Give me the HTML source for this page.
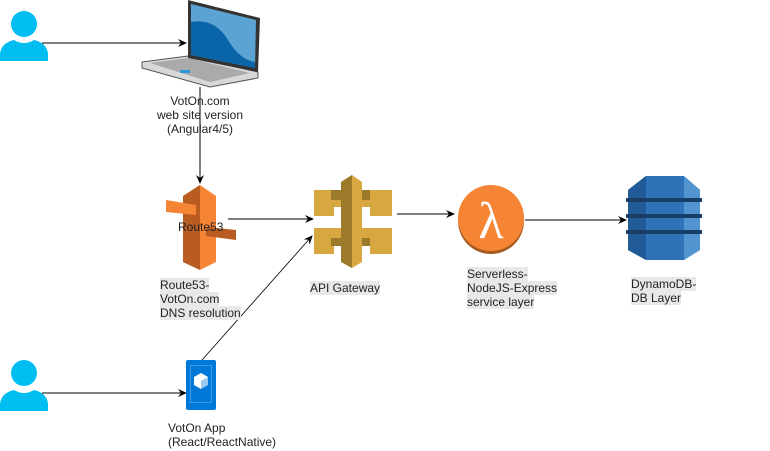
<!DOCTYPE html>
<html><head><style>
body{margin:0;background:#fff;width:770px;height:451px;overflow:hidden;font-family:"Liberation Sans",sans-serif;}
.t{position:absolute;font-size:12px;line-height:14px;color:#222;}
.bg span{background:#e8e8e8;}
</style></head><body>
<svg width="770" height="451" style="position:absolute;left:0;top:0">
<defs><marker id="a" markerWidth="10" markerHeight="10" refX="8" refY="5" orient="auto" markerUnits="userSpaceOnUse"><path d="M0,1 L9,5 L0,9 L3,5z" fill="#000"/></marker></defs>
<g fill="#00bef2">
<circle cx="24" cy="24" r="13"/><path d="M0,61 L0,54 Q1,43 14,40 Q24,46 34,40 Q47,43 48,54 L48,61z"/>
<circle cx="24" cy="373" r="13"/><path d="M0,411 L0,404 Q1,393 14,390 Q24,396 34,390 Q47,393 48,404 L48,411z"/>
</g>
<g stroke="#000" fill="none">
<line x1="42" y1="43" x2="186" y2="43" marker-end="url(#a)"/>
<line x1="42" y1="393" x2="186" y2="393" marker-end="url(#a)"/>
<line x1="200" y1="87" x2="200" y2="183" marker-end="url(#a)"/>
<line x1="228" y1="219" x2="313" y2="219" marker-end="url(#a)"/>
<line x1="202" y1="360" x2="312" y2="236" marker-end="url(#a)" stroke-width="0.8"/>
<line x1="397" y1="214" x2="454" y2="214" marker-end="url(#a)"/>
<line x1="525" y1="220" x2="626" y2="220" marker-end="url(#a)"/>
</g>
<polygon points="142,62 188,56 258,72 258,78 210,87 142,68" fill="#d8d8d8" stroke="#555"/>
<polygon points="150,63 188,58 250,73 210,82" fill="#aaa"/>
<rect x="180" y="70" width="10" height="3" fill="#2a9bd6"/>
<polygon points="188,0 260,18 258,72 188,58" fill="#333"/>
<polygon points="191,4 256,20 255,68 191,55" fill="#5ba3d2"/>
<path d="M191,22 Q215,18 228,40 Q240,60 255,62 L255,68 L191,55z" fill="#0a64a8"/>
<polygon points="183,196 200,185 216,196 216,262 200,270 183,262" fill="#f58534"/>
<polygon points="183,196 200,185 200,270 183,262" fill="#b85c22"/>
<polygon points="166,200 196,205 196,215 166,212" fill="#f58534"/>
<polygon points="206,227 236,230 236,240 206,236" fill="#b85c22"/>
<g>
<rect x="314" y="190" width="20" height="26" fill="#d9a741"/>
<rect x="331" y="190" width="44" height="10" fill="#9b7a2a"/>
<rect x="331" y="200" width="44" height="7" fill="#d9a741"/>
<rect x="370" y="190" width="22" height="26" fill="#d9a741"/>
<rect x="314" y="228" width="20" height="26" fill="#d9a741"/>
<rect x="331" y="228" width="44" height="10" fill="#d9a741"/>
<rect x="331" y="238" width="44" height="8" fill="#9b7a2a"/>
<rect x="370" y="228" width="22" height="26" fill="#d9a741"/>
<polygon points="341,182 352,175 362,182 362,262 352,268 341,262" fill="#d9a741"/>
<polygon points="341,182 352,175 352,268 341,262" fill="#9b7a2a"/>
</g>
<circle cx="491" cy="221" r="33" fill="#a65a20"/>
<circle cx="491" cy="218" r="33" fill="#f58534"/>
<text x="491" y="238" font-size="52" fill="#fff" text-anchor="middle" font-family="Liberation Serif">λ</text>
<polygon points="628,190 646,176 684,176 700,190 700,250 684,260 646,260 628,250" fill="#2e73b8"/>
<polygon points="628,190 646,176 646,260 628,250" fill="#205b97"/>
<polygon points="684,176 700,190 700,250 684,260" fill="#5294cf"/>
<g fill="#1a3d66"><rect x="626" y="198" width="76" height="4"/><rect x="626" y="214" width="76" height="4"/><rect x="626" y="230" width="76" height="4"/></g>
<rect x="186" y="360" width="30" height="50" rx="2" fill="#0078d7"/>
<rect x="190" y="365" width="22" height="38" fill="#fff" opacity="0.25"/>
<rect x="191" y="366" width="20" height="36" fill="#0078d7"/>
<polygon points="201,373 208,377 208,385 201,389 194,385 194,377" fill="#fff"/>
<polygon points="201,381 208,377 208,385 201,389" fill="#0078d7" opacity="0.4"/>
</svg>
<div class="t" style="left:150px;top:94px;width:100px;text-align:center">VotOn.com<br>web site version<br>(Angular4/5)</div>
<div class="t" style="left:178px;top:220px">Route53</div>
<div class="t bg" style="left:160px;top:278px"><span>Route53-</span><br><span>VotOn.com</span><br><span>DNS resolution</span></div>
<div class="t bg" style="left:310px;top:281px"><span>API Gateway</span></div>
<div class="t bg" style="left:467px;top:267px"><span>Serverless-</span><br><span>NodeJS-Express</span><br><span>service layer</span></div>
<div class="t bg" style="left:631px;top:277px"><span>DynamoDB-</span><br><span>DB Layer</span></div>
<div class="t" style="left:168px;top:421px">VotOn App<br>(React/ReactNative)</div>
</body></html>
